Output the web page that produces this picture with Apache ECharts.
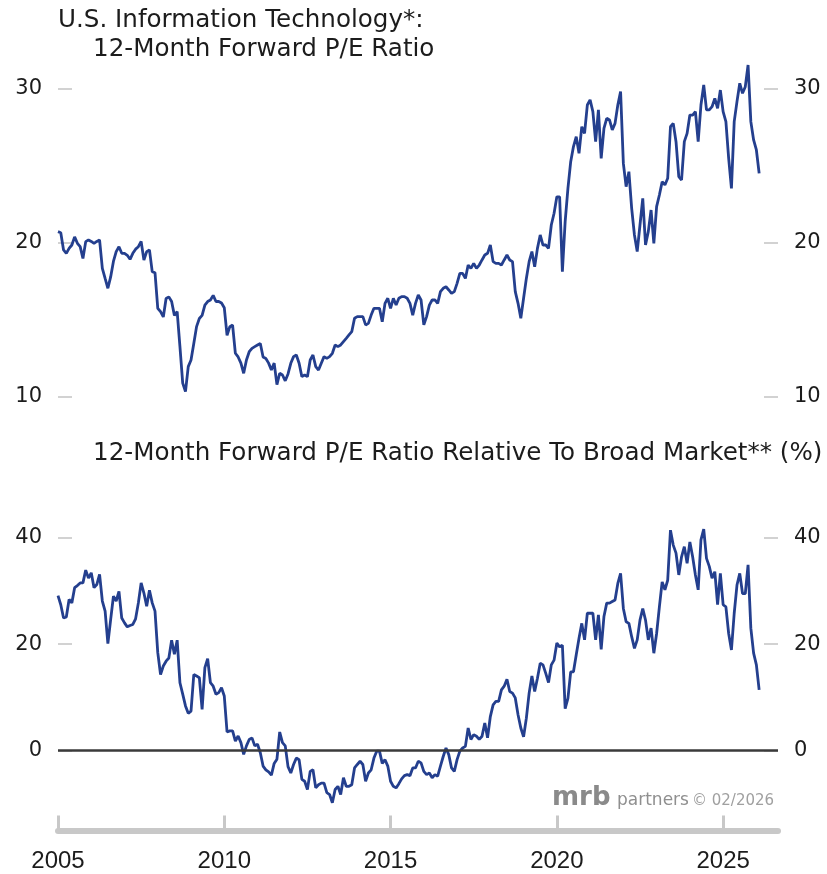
<!DOCTYPE html>
<html>
<head>
<meta charset="utf-8">
<title>U.S. Information Technology 12-Month Forward P/E</title>
<script src="https://cdn.jsdelivr.net/npm/echarts@6/dist/echarts.min.js"></script>
<style>
  html, body { margin: 0; padding: 0; background: #fff; }
  #chart { width: 827px; height: 874px; }
</style>
</head>
<body>
<div id="chart"></div>
<script>
// monthly, starting Jan 2005, ending Feb 2026
const startYear = 2005;

// 12-month forward P/E ratio, US info tech
const peRatio = [
  20.74, 20.67, 19.55, 19.33, 19.65, 19.87, 20.4, 19.98, 19.76, 19.0, 20.09, 20.2,   // 2005
  20.1, 19.98, 20.1, 20.2, 18.35, 17.7, 17.06, 17.8, 18.8, 19.44, 19.76, 19.33,      // 2006
  19.33, 19.2, 18.94, 19.33, 19.6, 19.76, 20.1, 18.9, 19.44, 19.55, 18.14, 18.07,    // 2007
  15.76, 15.54, 15.2, 16.4, 16.5, 16.2, 15.3, 15.54, 13.27, 10.9, 10.35, 11.97,      // 2008
  12.4, 13.48, 14.57, 15.1, 15.3, 15.97, 16.2, 16.3, 16.6, 16.2, 16.2, 16.1,         // 2009
  15.8, 14.0, 14.57, 14.67, 12.84, 12.6, 12.2, 11.54, 12.4, 12.94, 13.16, 13.27,     // 2010
  13.38, 13.48, 12.6, 12.5, 12.2, 11.75, 12.2, 10.8, 11.54, 11.43, 11.05, 11.5,      // 2011
  12.19, 12.62, 12.73, 12.19, 11.32, 11.43, 11.32, 12.4, 12.73, 11.97, 11.75, 12.19, // 2012
  12.62, 12.51, 12.62, 12.84, 13.38, 13.27, 13.38, 13.6, 13.81, 14.03, 14.24, 15.11, // 2013
  15.22, 15.22, 15.22, 14.68, 14.78, 15.32, 15.76, 15.76, 15.76, 14.89, 16.08, 16.41, // 2014
  15.76, 16.41, 15.97, 16.41, 16.52, 16.52, 16.41, 16.08, 15.32, 16.08, 16.62, 16.3, // 2015
  14.68, 15.22, 15.97, 16.3, 16.3, 16.08, 16.84, 17.06, 17.16, 16.95, 16.73, 16.84,  // 2016
  17.38, 18.03, 18.03, 17.7, 18.57, 18.35, 18.68, 18.35, 18.57, 18.9, 19.22, 19.33,  // 2017
  19.87, 18.79, 18.68, 18.68, 18.57, 18.9, 19.22, 18.9, 18.79, 16.84, 16.08, 15.11,  // 2018
  16.41, 17.7, 18.79, 19.44, 18.46, 19.65, 20.52, 19.87, 19.87, 19.65, 21.17, 21.93, // 2019
  23.0, 23.0, 18.14, 21.39, 23.55, 25.28, 26.26, 26.9, 25.82, 27.55, 27.12, 28.96,   // 2020
  29.29, 28.53, 26.58, 28.64, 25.5, 27.45, 28.1, 27.99, 27.34, 27.77, 28.96, 29.83,  // 2021
  25.17, 23.66, 24.63, 22.25, 20.52, 19.44, 21.17, 22.9, 19.87, 20.74, 22.14, 19.98, // 2022
  22.36, 23.12, 23.98, 23.77, 24.2, 27.55, 27.77, 26.58, 24.31, 24.09, 26.58, 27.12, // 2023
  28.31, 28.31, 28.53, 26.58, 28.96, 30.26, 28.64, 28.64, 28.85, 29.39, 28.74, 29.93, // 2024
  28.53, 27.88, 25.5, 23.55, 27.88, 29.18, 30.37, 29.72, 30.15, 31.56, 27.88, 26.69, // 2025
  26.04, 24.52                                                                         // 2026
];

// forward P/E relative to broad market, %
const relPe = [
  29.1, 27.4, 24.9, 25.1, 28.4, 27.75, 30.6, 31.0, 31.5, 31.5, 33.9, 32.4,
  33.4, 30.6, 31.2, 33.1, 28.1, 26.2, 20.1, 24.6, 29.0, 28.1, 29.9, 24.9,
  24.0, 23.25, 23.5, 23.7, 24.75, 27.75, 31.5, 29.6, 27.1, 30.1, 27.75, 26.2,
  18.4, 14.3, 15.9, 16.8, 17.4, 20.75, 18.1, 20.75, 12.75, 10.6, 8.4, 7.0,
  7.4, 14.3, 14.0, 13.7, 7.75, 15.6, 17.25, 12.75, 12.1, 10.6, 10.9, 11.8,
  10.25, 3.5, 3.7, 3.7, 1.8, 2.75, 1.5, -0.7, 0.9, 2.1, 2.4, 0.9,
  1.2, -0.4, -2.9, -3.6, -4.0, -4.6, -2.4, -1.6, 3.5, 1.5, 0.9, -3.0,
  -4.2, -2.6, -1.4, -1.7, -5.4, -5.75, -7.3, -3.9, -3.6, -7.0, -6.4, -6.1,
  -6.1, -7.9, -8.25, -9.8, -7.3, -6.7, -8.25, -5.1, -6.7, -6.7, -6.4, -3.25,
  -2.6, -2.0, -2.6, -5.75, -4.2, -3.6, -1.4, -0.1, -0.1, -2.4, -1.7, -2.9,
  -5.75, -6.7, -7.0, -6.2, -5.3, -4.7, -4.5, -4.7, -3.25, -3.25, -2.0, -2.3,
  -3.9, -4.5, -4.2, -5.1, -4.5, -4.8, -2.9, -1.1, 0.5, -0.75, -3.25, -3.9,
  -1.7, -0.1, 0.5, 0.8, 4.25, 2.1, 3.0, 2.7, 2.1, 2.7, 5.2, 2.4,
  6.4, 8.6, 9.25, 9.25, 11.4, 12.1, 13.4, 11.1, 10.8, 9.9, 6.75, 4.25,
  2.6, 6.1, 10.8, 14.0, 11.1, 13.6, 16.4, 16.1, 14.5, 12.8, 16.1, 17.0,
  20.2, 19.5, 19.8, 7.9, 9.8, 14.8, 14.8, 18.0, 21.1, 23.9, 20.8, 25.8,
  25.8, 25.8, 20.8, 25.5, 19.0, 25.2, 27.7, 27.7, 28.0, 28.3, 31.4, 33.3,
  26.7, 24.2, 23.9, 21.4, 19.2, 20.8, 24.5, 26.7, 24.5, 20.8, 23.0, 18.3,
  22.0, 27.0, 31.7, 30.2, 32.0, 41.4, 38.6, 37.1, 33.0, 36.4, 38.3, 35.2,
  39.2, 36.4, 33.0, 30.2, 39.6, 41.6, 36.1, 34.6, 32.4, 33.6, 27.4, 33.3,
  27.4, 27.0, 22.0, 18.9, 25.8, 31.1, 33.3, 29.5, 29.5, 34.9, 23.0, 18.3,
  16.1, 11.4
];

const yearTicks = [2005, 2010, 2015, 2020, 2025];
const relTicks = [0, 20, 40];

const lineColor = '#243f8e';
const textColor = '#1c1c1c';
const tickGray = '#c4c4c4';

function toPoints(arr) {
  return arr.map((v, i) => [startYear + i / 12, v]);
}

function yAxisSide(grid, pos, extra) {
  return Object.assign({
    gridIndex: grid,
    type: 'value',
    position: pos,
    axisLine: { show: false },
    axisTick: { show: true, inside: true, length: 14, lineStyle: { color: tickGray, width: 1.5 } },
    axisLabel: { margin: 16, fontSize: 21, fontFamily: 'DejaVu Sans', color: textColor },
    splitLine: { show: false }
  }, extra);
}

const chart = echarts.init(document.getElementById('chart'));

chart.setOption({
  animation: false,
  backgroundColor: '#fff',
  grid: [
    { left: 58, right: 49, top: 89, height: 308 },
    { left: 58, right: 49, top: 527, height: 303.5 }
  ],
  xAxis: [
    { gridIndex: 0, type: 'value', min: 2005, max: 2026.65, show: false },
    {
      gridIndex: 1, type: 'value', min: 2005, max: 2026.65,
      axisLine: { show: true, onZero: false, lineStyle: { color: '#c8c8c8', width: 6 } },
      axisTick: { show: true, inside: true, length: 15, customValues: yearTicks,
                  lineStyle: { color: '#c8c8c8', width: 3 } },
      axisLabel: { customValues: yearTicks, formatter: v => String(Math.round(v)),
                   fontSize: 24, fontFamily: 'Liberation Sans', color: textColor, margin: 19 },
      splitLine: { show: false }
    }
  ],
  yAxis: [
    yAxisSide(0, 'left', { min: 10, max: 30, interval: 10 }),
    yAxisSide(0, 'right', { min: 10, max: 30, interval: 10 }),
    yAxisSide(1, 'left', { min: -15, max: 42,
      axisTick: { show: true, inside: true, length: 14, customValues: relTicks, lineStyle: { color: tickGray, width: 1.5 } },
      axisLabel: { customValues: relTicks, margin: 16, fontSize: 21, fontFamily: 'DejaVu Sans', color: textColor } }),
    yAxisSide(1, 'right', { min: -15, max: 42,
      axisTick: { show: true, inside: true, length: 14, customValues: relTicks, lineStyle: { color: tickGray, width: 1.5 } },
      axisLabel: { customValues: relTicks, margin: 16, fontSize: 21, fontFamily: 'DejaVu Sans', color: textColor } })
  ],
  series: [
    {
      type: 'line', xAxisIndex: 0, yAxisIndex: 0,
      data: toPoints(peRatio),
      symbol: 'none', clip: false, silent: true,
      lineStyle: { color: lineColor, width: 2.8 }
    },
    {
      type: 'line', xAxisIndex: 1, yAxisIndex: 2,
      data: toPoints(relPe),
      symbol: 'none', clip: false, silent: true,
      lineStyle: { color: lineColor, width: 2.8 },
      markLine: {
        silent: true, symbol: ['none', 'none'], label: { show: false },
        lineStyle: { color: '#3a3a3a', width: 2.5, type: 'solid' },
        data: [{ yAxis: 0 }]
      },
      z: 3
    }
  ],
  graphic: [
    { type: 'text', style: { x: 58, y: 21, text: 'U.S. Information Technology*:', font: '24.6px "DejaVu Sans"', fill: textColor, verticalAlign: 'middle' } },
    { type: 'text', style: { x: 93, y: 50, text: '12-Month Forward P/E Ratio', font: '24.6px "DejaVu Sans"', fill: textColor, verticalAlign: 'middle' } },
    { type: 'text', style: { x: 93, y: 454, text: '12-Month Forward P/E Ratio Relative To Broad Market** (%)', font: '24.6px "DejaVu Sans"', fill: textColor, verticalAlign: 'middle' } },
    // watermark
    { type: 'text', style: { x: 552, y: 798, text: 'mrb', font: 'bold 26px "DejaVu Sans"', fill: '#8a8a8a', verticalAlign: 'middle' } },
    { type: 'text', style: { x: 617, y: 801, text: 'partners', font: '17px "DejaVu Sans"', fill: '#8f8f8f', verticalAlign: 'middle' } },
    { type: 'text', style: { x: 692, y: 801, text: '© 02/2026', font: '15px "DejaVu Sans"', fill: '#a0a0a0', verticalAlign: 'middle' } }
  ]
});
</script>
</body>
</html>
